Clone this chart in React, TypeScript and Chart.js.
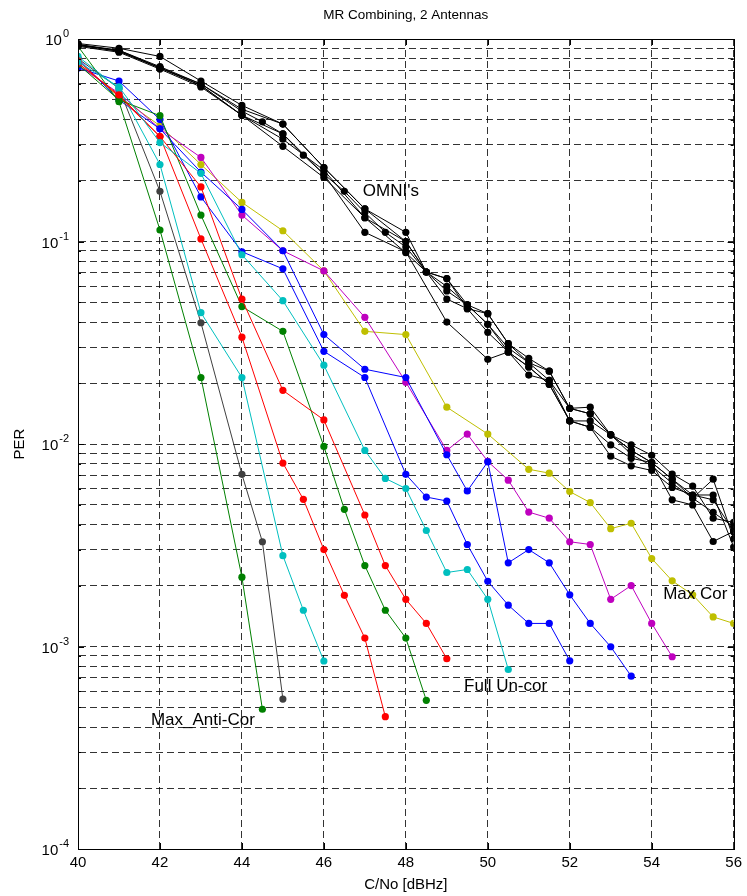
import React, { useEffect, useRef } from 'react';
import { Chart, registerables } from 'chart.js';

Chart.register(...registerables);

// ---------------- data ----------------
const X_TICKS = [40, 42, 44, 46, 48, 50, 52, 54, 56];
const Y_MAJOR = [1e-4, 1e-3, 1e-2, 1e-1, 1];
const Y_MAJOR_EXP = ['-4', '-3', '-2', '-1', '0'];
const Y_MINOR_MULT = [2, 3, 4, 5, 6, 7, 8, 9];

const X_OMNI_HALF = [40, 41, 42, 43, 44, 44.5, 45, 45.5, 46, 46.5, 47, 47.5, 48, 48.5, 49, 49.5, 50, 50.5, 51, 51.5, 52, 52.5, 53, 53.5, 54, 54.5, 55, 55.5, 56];
const X_OMNI_FULL = [40, 41, 42, 43, 44, 45, 46, 47, 48, 48.5, 49, 49.5, 50, 50.5, 51, 51.5, 52, 52.5, 53, 53.5, 54, 54.5, 55, 55.5, 56];
const X_OMNI_SKIP = [40, 41, 42, 43, 44, 45, 46, 47, 48, 49, 50, 50.5, 51, 51.5, 52, 52.5, 53, 53.5, 54, 54.5, 55, 55.5, 56];

const OMNI1_Y = [0.93, 0.88, 0.72, 0.6, 0.44, 0.39, 0.34, 0.267, 0.215, 0.177, 0.139, 0.111, 0.094, 0.0707, 0.06, 0.0487, 0.039, 0.0298, 0.0252, 0.0206, 0.015, 0.0141, 0.0111, 0.0093, 0.0081, 0.0067, 0.0056, 0.0053, 0.0037];
const OMNI2_Y = [0.95, 0.9, 0.82, 0.62, 0.47, 0.38, 0.232, 0.145, 0.111, 0.0707, 0.0656, 0.0466, 0.044, 0.0313, 0.0265, 0.0229, 0.015, 0.0152, 0.0111, 0.0099, 0.0088, 0.0071, 0.0062, 0.0043, 0.0041];
const OMNI3_Y = [0.94, 0.87, 0.72, 0.59, 0.42, 0.32, 0.225, 0.131, 0.1, 0.0707, 0.057, 0.0487, 0.039, 0.0285, 0.024, 0.0197, 0.013, 0.013, 0.0111, 0.0089, 0.0078, 0.0064, 0.0054, 0.0067, 0.0034];
const OMNI4_Y = [0.92, 0.86, 0.71, 0.58, 0.42, 0.295, 0.207, 0.131, 0.088, 0.0707, 0.052, 0.0466, 0.0356, 0.0285, 0.0219, 0.0206, 0.013, 0.0121, 0.0087, 0.0078, 0.0074, 0.0061, 0.0056, 0.0056, 0.0031];
const OMNI5_Y = [0.93, 0.87, 0.72, 0.59, 0.42, 0.34, 0.215, 0.111, 0.089, 0.04, 0.0262, 0.0285, 0.024, 0.0197, 0.013, 0.0121, 0.0099, 0.0085, 0.0081, 0.0053, 0.005, 0.0033, 0.0037];
const OMNI6_Y = [0.94, 0.88, 0.73, 0.6, 0.45, 0.38, 0.232, 0.145, 0.1, 0.0707, 0.0656, 0.0487, 0.044, 0.0313, 0.0252, 0.0229, 0.015, 0.0141, 0.0111, 0.0093, 0.0081, 0.0067, 0.0054, 0.0046, 0.0039];

const GREEN1_X = [40, 41, 42, 43, 44, 44.5];
const GREEN1_Y = [0.92, 0.49, 0.114, 0.0213, 0.0022, 0.00049];
const GRAY_X = [40, 41, 42, 43, 44, 44.5, 45];
const GRAY_Y = [0.8, 0.57, 0.177, 0.0397, 0.00708, 0.00329, 0.00055];
const CYAN1_X = [40, 41, 42, 43, 44, 45, 45.5, 46];
const CYAN1_Y = [0.82, 0.57, 0.24, 0.0445, 0.0213, 0.00281, 0.00151, 0.000848];
const RED1_X = [40, 41, 42, 43, 44, 45, 45.5, 46, 46.5, 47, 47.5];
const RED1_Y = [0.78, 0.52, 0.33, 0.103, 0.0337, 0.00805, 0.00533, 0.00301, 0.00179, 0.0011, 0.00045];
const GREEN2_X = [40, 41, 42, 43, 44, 45, 46, 46.5, 47, 47.5, 48, 48.5];
const GREEN2_Y = [0.75, 0.5, 0.418, 0.135, 0.0477, 0.036, 0.00973, 0.00476, 0.00251, 0.00151, 0.0011, 0.000542];
const RED2_X = [40, 41, 42, 43, 44, 45, 46, 47, 47.5, 48, 48.5, 49];
const RED2_Y = [0.76, 0.53, 0.33, 0.186, 0.0519, 0.0184, 0.01315, 0.00446, 0.00251, 0.00171, 0.0013, 0.00087];
const CYAN2_X = [40, 41, 42, 43, 44, 45, 46, 47, 47.5, 48, 48.5, 49, 49.5, 50, 50.5];
const CYAN2_Y = [0.77, 0.58, 0.308, 0.217, 0.086, 0.051, 0.0245, 0.0093, 0.00676, 0.00603, 0.00374, 0.00232, 0.0024, 0.00171, 0.00077];
const BLUE1_X = [40, 41, 42, 43, 44, 45, 46, 47, 48, 48.5, 49, 49.5, 50, 50.5, 51, 51.5, 52];
const BLUE1_Y = [0.72, 0.62, 0.4, 0.166, 0.089, 0.0733, 0.0287, 0.0213, 0.00708, 0.00547, 0.00523, 0.00319, 0.0021, 0.0016, 0.0013, 0.0013, 0.00085];
const BLUE2_X = [40, 41, 42, 43, 44, 45, 46, 47, 48, 49, 49.5, 50, 50.5, 51, 51.5, 52, 52.5, 53, 53.5];
const BLUE2_Y = [0.8, 0.5, 0.36, 0.22, 0.144, 0.09, 0.0347, 0.0234, 0.0213, 0.00885, 0.00586, 0.00817, 0.00259, 0.00301, 0.00259, 0.0018, 0.0013, 0.000997, 0.000714];
const MAGENTA_X = [40, 41, 42, 43, 44, 45, 46, 47, 48, 49, 49.5, 50, 50.5, 51, 51.5, 52, 52.5, 53, 53.5, 54, 54.5];
const MAGENTA_Y = [0.74, 0.54, 0.36, 0.26, 0.135, 0.09, 0.0716, 0.0422, 0.0202, 0.0093, 0.0112, 0.0082, 0.00663, 0.00461, 0.0043, 0.00329, 0.00319, 0.00171, 0.002, 0.0013, 0.00089];
const YELLOW_X = [40, 41, 42, 43, 44, 45, 46, 47, 48, 49, 50, 51, 51.5, 52, 52.5, 53, 53.5, 54, 54.5, 55, 55.5, 56];
const YELLOW_Y = [0.76, 0.52, 0.373, 0.24, 0.156, 0.113, 0.0716, 0.036, 0.0347, 0.0152, 0.0112, 0.0075, 0.00718, 0.00582, 0.00514, 0.00382, 0.00406, 0.00272, 0.00211, 0.0018, 0.0014, 0.0013];

const TITLE = 'MR Combining, 2 Antennas';
const X_TITLE = 'C/No [dBHz]';
const Y_TITLE = 'PER';
const NOTES = [
  { text: "OMNI's", x: 46.95, y: 0.176 },
  { text: 'Max Cor', x: 54.28, y: 0.00182 },
  { text: 'Full Un-cor', x: 49.42, y: 0.000637 },
  { text: 'Max_Anti-Cor', x: 41.78, y: 0.000433 },
];

// ---------------- styling ----------------
const W = 747;
const H = 896;
const FONT = '"Liberation Sans", Arial, Helvetica, sans-serif';
const C_BLACK = '#000000';
const C_BLUE = '#0000ff';
const C_GREEN = '#008000';
const C_RED = '#ff0000';
const C_CYAN = '#00bfbf';
const C_MAGENTA = '#bf00bf';
const C_YELLOW = '#bfbf00';
const C_GRAY = '#404040';
const GRID = 'rgba(0,0,0,0.8)';

const PLOT_LEFT = 78;
const PLOT_RIGHT = 740;
const PLOT_TOP = 39;
const PLOT_BOTTOM = 849;

const framePlugin = {
  id: 'frame',
  afterDraw(chart: any) {
    const { ctx, chartArea: a, scales } = chart;
    const xs = scales.x;
    const ys = scales.y;
    ctx.save();
    // box
    ctx.strokeStyle = '#000';
    ctx.lineWidth = 1;
    ctx.setLineDash([]);
    ctx.strokeRect(Math.round(a.left) + 0.5, Math.round(a.top) + 0.5, Math.round(a.right - a.left), Math.round(a.bottom - a.top));
    // tick marks
    ctx.beginPath();
    X_TICKS.forEach((v) => {
      const px = Math.round(xs.getPixelForValue(v)) + 0.5;
      ctx.moveTo(px, a.bottom); ctx.lineTo(px, a.bottom - 6);
      ctx.moveTo(px, a.top); ctx.lineTo(px, a.top + 6);
    });
    Y_MAJOR.forEach((v, i) => {
      const py = Math.round(ys.getPixelForValue(v)) + 0.5;
      ctx.moveTo(a.left, py); ctx.lineTo(a.left + 6, py);
      ctx.moveTo(a.right, py); ctx.lineTo(a.right - 6, py);
      if (i < Y_MAJOR.length - 1) {
        Y_MINOR_MULT.forEach((m) => {
          const pm = Math.round(ys.getPixelForValue(v * m)) + 0.5;
          ctx.moveTo(a.left, pm); ctx.lineTo(a.left + 3, pm);
          ctx.moveTo(a.right, pm); ctx.lineTo(a.right - 3, pm);
        });
      }
    });
    ctx.stroke();

    ctx.fillStyle = '#000';
    // y tick labels 10^k
    Y_MAJOR.forEach((v, i) => {
      const py = ys.getPixelForValue(v);
      const exp = Y_MAJOR_EXP[i];
      ctx.font = `11px ${FONT}`;
      ctx.textBaseline = 'alphabetic';
      ctx.textAlign = 'right';
      const ew = ctx.measureText(exp).width;
      const right = 69;
      ctx.fillText(exp, right, py - 2);
      ctx.font = `15px ${FONT}`;
      ctx.fillText('10', right - ew - 1, py + 6);
    });

    // title
    const cx = (a.left + a.right) / 2;
    ctx.font = `13.5px ${FONT}`;
    ctx.textAlign = 'center';
    ctx.textBaseline = 'middle';
    ctx.fillText(TITLE, cx, 15);
    // x title
    ctx.font = `15px ${FONT}`;
    ctx.fillText(X_TITLE, cx, 885);
    // y title
    ctx.save();
    ctx.translate(20, (a.top + a.bottom) / 2);
    ctx.rotate(-Math.PI / 2);
    ctx.fillText(Y_TITLE, 0, 0);
    ctx.restore();

    // annotations
    ctx.font = `17px ${FONT}`;
    ctx.textAlign = 'left';
    ctx.textBaseline = 'middle';
    NOTES.forEach((n) => {
      ctx.fillText(n.text, xs.getPixelForValue(n.x), ys.getPixelForValue(n.y));
    });
    ctx.restore();
  },
};

function mk(x: number[], y: number[], color: string) {
  return {
    data: x.map((xv, i) => ({ x: xv, y: y[i] })),
    borderColor: color,
    backgroundColor: color,
    pointBackgroundColor: color,
    pointBorderColor: color,
    pointBorderWidth: 0,
    pointRadius: 3.6,
    borderWidth: 1,
    tension: 0,
    fill: false,
  };
}

export default function App() {
  const ref = useRef<HTMLCanvasElement>(null);
  useEffect(() => {
    const canvas = ref.current;
    if (!canvas) return;
    const datasets = [
      mk(X_OMNI_HALF, OMNI1_Y, C_BLACK),
      mk(X_OMNI_FULL, OMNI2_Y, C_BLACK),
      mk(X_OMNI_FULL, OMNI3_Y, C_BLACK),
      mk(X_OMNI_FULL, OMNI4_Y, C_BLACK),
      mk(X_OMNI_SKIP, OMNI5_Y, C_BLACK),
      mk(X_OMNI_FULL, OMNI6_Y, C_BLACK),
      mk(CYAN2_X, CYAN2_Y, C_CYAN),
      mk(RED2_X, RED2_Y, C_RED),
      mk(GREEN2_X, GREEN2_Y, C_GREEN),
      mk(RED1_X, RED1_Y, C_RED),
      mk(CYAN1_X, CYAN1_Y, C_CYAN),
      mk(GRAY_X, GRAY_Y, C_GRAY),
      mk(GREEN1_X, GREEN1_Y, C_GREEN),
      mk(BLUE1_X, BLUE1_Y, C_BLUE),
      mk(BLUE2_X, BLUE2_Y, C_BLUE),
      mk(MAGENTA_X, MAGENTA_Y, C_MAGENTA),
      mk(YELLOW_X, YELLOW_Y, C_YELLOW),
    ];
    const yGrid: number[] = [];
    Y_MAJOR.forEach((v, i) => {
      yGrid.push(v);
      if (i < Y_MAJOR.length - 1) Y_MINOR_MULT.forEach((m) => yGrid.push(v * m));
    });
    const chart = new Chart(canvas, {
      type: 'line',
      data: { datasets } as any,
      options: {
        responsive: false,
        animation: false,
        devicePixelRatio: 1,
        layout: { padding: { top: PLOT_TOP, right: W - PLOT_RIGHT, left: 0, bottom: 0 } },
        plugins: {
          legend: { display: false },
          tooltip: { enabled: false },
          title: { display: false },
        },
        scales: {
          x: {
            type: 'linear',
            min: 40,
            max: 56,
            afterBuildTicks: (s: any) => { s.ticks = X_TICKS.map((v) => ({ value: v })); },
            afterFit: (s: any) => { s.height = H - PLOT_BOTTOM; },
            grid: { color: GRID, lineWidth: 1, drawTicks: false },
            border: { display: true, color: '#000', width: 1, dash: [7, 4] },
            ticks: {
              color: '#000',
              font: { family: FONT, size: 15 },
              padding: 5,
              maxRotation: 0,
              autoSkip: false,
              callback: (v: any) => String(v),
            },
          },
          y: {
            type: 'logarithmic',
            min: 1e-4,
            max: 1,
            afterBuildTicks: (s: any) => { s.ticks = yGrid.map((v) => ({ value: v })); },
            afterFit: (s: any) => { s.width = PLOT_LEFT; },
            grid: { color: GRID, lineWidth: 1, drawTicks: false },
            border: { display: true, color: '#000', width: 1, dash: [7, 4] },
            ticks: { display: false },
          },
        },
      } as any,
      plugins: [framePlugin],
    });
    return () => chart.destroy();
  }, []);

  return (
    <div style={{ position: 'absolute', left: 0, top: 0, width: W, height: H, background: '#fff' }}>
      <canvas ref={ref} width={W} height={H} style={{ display: 'block', width: W, height: H }} />
    </div>
  );
}
